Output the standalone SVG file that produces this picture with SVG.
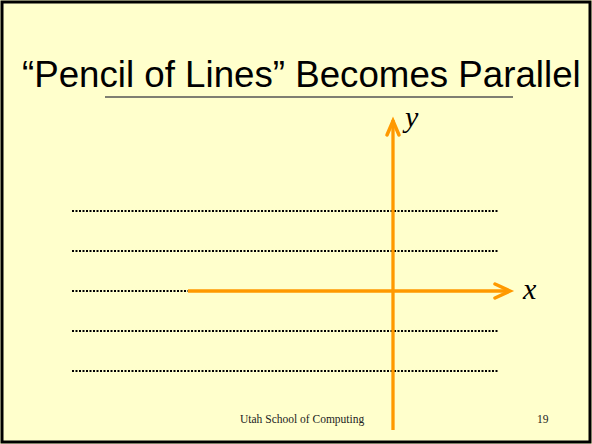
<svg xmlns="http://www.w3.org/2000/svg" width="592" height="444" viewBox="0 0 592 444">
  <style>
    .dots { stroke: #000; stroke-width: 2; stroke-dasharray: 2 1.5; fill: none; }
    .axis { stroke: #FF9900; stroke-width: 3.3; fill: none; }
    .head { stroke: #FF9900; stroke-width: 3.5; fill: none; stroke-linecap: round; stroke-linejoin: miter; }
    .title { font-family: "Liberation Sans", Arial, sans-serif; font-size: 36.7px; fill: #000; }
    .lbl { font-family: "Liberation Serif", "Times New Roman", serif; font-style: italic; font-size: 30px; fill: #000; }
    .foot { font-family: "Liberation Serif", "Times New Roman", serif; font-size: 11.5px; fill: #222; }
  </style>
  <rect x="0" y="0" width="592" height="444" fill="#FFFFCC"/>
  <rect x="2" y="2" width="588" height="440" fill="none" stroke="#000" stroke-width="3"/>
  <g id="title">
    <text class="title" x="22" y="87">“Pencil of Lines” Becomes Parallel</text>
    <line x1="105" y1="97" x2="513" y2="97" stroke="#555" stroke-width="1.5"/>
  </g>
  <g id="dotted-lines">
    <line class="dots" x1="72" y1="211" x2="499" y2="211"/>
    <line class="dots" x1="72" y1="251" x2="499" y2="251"/>
    <line class="dots" x1="72" y1="291" x2="499" y2="291"/>
    <line class="dots" x1="72" y1="331" x2="499" y2="331"/>
    <line class="dots" x1="72" y1="371" x2="499" y2="371"/>
  </g>
  <g id="connectors">
    <line class="axis" x1="393" y1="430" x2="393" y2="120"/>
    <polyline class="head" points="387,135 393,121 399,135"/>
    <line class="axis" x1="188" y1="291" x2="508" y2="291"/>
    <polyline class="head" points="495,284 510,291 495,298"/>
  </g>
  <g id="labels">
    <text class="lbl" x="405" y="127">y</text>
    <text class="lbl" x="523" y="299">x</text>
  </g>
  <g id="footer">
    <text class="foot" x="240" y="423">Utah School of Computing</text>
    <text class="foot" x="537" y="423">19</text>
  </g>
</svg>
